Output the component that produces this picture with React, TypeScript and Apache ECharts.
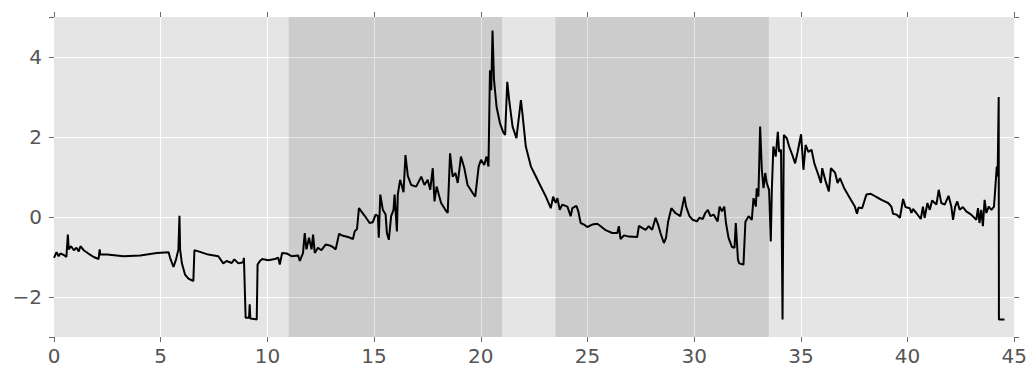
import React, { useEffect, useRef } from "react";
import * as echarts from "echarts";

const xValues = [
  0.0, 0.12, 0.22, 0.3, 0.46, 0.58, 0.65, 0.69, 0.8, 0.93, 1.05, 1.16, 1.24, 1.39, 1.63, 1.86, 2.09, 2.14, 2.17, 2.49,
  3.26, 4.04, 4.82, 5.37, 5.44, 5.6, 5.72, 5.83, 5.88, 5.91, 5.99, 6.14, 6.3, 6.53, 6.58, 6.77, 7.23, 7.7, 7.93, 8.09,
  8.33, 8.45, 8.64, 8.87, 8.9, 8.98, 9.14, 9.17, 9.2, 9.5, 9.54, 9.65, 9.76, 10.04, 10.35, 10.51, 10.58, 10.69, 10.9, 11.13,
  11.44, 11.52, 11.67, 11.75, 11.83, 11.95, 12.07, 12.14, 12.22, 12.37, 12.53, 12.73, 12.92, 13.07, 13.2, 13.36, 13.54, 13.78, 14.01, 14.09,
  14.2, 14.29, 14.4, 14.56, 14.79, 14.94, 15.07, 15.18, 15.22, 15.29, 15.41, 15.54, 15.6, 15.69, 15.8, 15.91, 15.96, 16.07, 16.11, 16.22,
  16.31, 16.38, 16.47, 16.58, 16.74, 16.97, 17.21, 17.36, 17.51, 17.63, 17.75, 17.83, 17.93, 18.14, 18.34, 18.45, 18.56, 18.68, 18.81, 18.92,
  19.07, 19.23, 19.38, 19.62, 19.74, 19.9, 20.01, 20.16, 20.27, 20.36, 20.43, 20.49, 20.55, 20.62, 20.74, 20.9, 21.05, 21.14, 21.24, 21.33,
  21.49, 21.67, 21.88, 21.95, 22.11, 22.35, 22.5, 22.73, 23.05, 23.28, 23.39, 23.51, 23.59, 23.7, 23.82, 24.06, 24.21, 24.29, 24.48, 24.57,
  24.68, 24.84, 24.99, 25.22, 25.46, 25.62, 25.85, 26.16, 26.4, 26.47, 26.55, 26.71, 26.94, 27.33, 27.41, 27.56, 27.72, 27.87, 28.03, 28.19,
  28.31, 28.42, 28.58, 28.68, 28.78, 28.93, 29.12, 29.35, 29.54, 29.62, 29.78, 29.93, 30.13, 30.24, 30.4, 30.52, 30.64, 30.76, 30.91, 31.1,
  31.19, 31.3, 31.41, 31.49, 31.61, 31.77, 31.89, 31.95, 32.05, 32.11, 32.31, 32.4, 32.55, 32.7, 32.78, 32.89, 32.93, 33.01, 33.09, 33.17,
  33.25, 33.33, 33.4, 33.51, 33.59, 33.64, 33.71, 33.82, 33.92, 33.98, 34.07, 34.14, 34.2, 34.34, 34.45, 34.6, 34.73, 34.85, 35.01, 35.12,
  35.22, 35.35, 35.5, 35.63, 35.82, 35.94, 36.0, 36.16, 36.31, 36.41, 36.6, 36.72, 36.83, 37.03, 37.3, 37.53, 37.63, 37.7, 37.87, 38.07,
  38.28, 38.54, 38.78, 39.09, 39.24, 39.32, 39.48, 39.64, 39.79, 39.9, 40.1, 40.18, 40.25, 40.41, 40.62, 40.72, 40.8, 40.93, 41.04, 41.15,
  41.35, 41.46, 41.58, 41.74, 41.92, 42.05, 42.13, 42.23, 42.33, 42.44, 42.59, 42.75, 42.98, 43.22, 43.3, 43.37, 43.45, 43.53, 43.61, 43.69,
  43.8, 43.93, 44.05, 44.18, 44.22, 44.27, 44.28, 44.54,
];

const yValues = [
  -1.02, -0.88, -0.98, -0.91, -0.95, -1.0, -0.44, -0.81, -0.73, -0.83, -0.77, -0.86, -0.73, -0.83, -0.92, -1.0, -1.05, -0.81, -0.94, -0.94,
  -0.98, -0.96, -0.9, -0.88, -1.02, -1.25, -1.06, -0.81, 0.03, -0.81, -1.15, -1.44, -1.54, -1.6, -0.83, -0.86, -0.94, -0.98, -1.16, -1.1,
  -1.15, -1.06, -1.16, -1.13, -1.02, -2.52, -2.52, -2.18, -2.54, -2.56, -1.19, -1.1, -1.05, -1.08, -1.05, -1.02, -1.19, -0.9, -0.91, -0.98,
  -0.96, -1.1, -0.9, -0.4, -0.81, -0.52, -0.81, -0.44, -0.9, -0.77, -0.83, -0.69, -0.71, -0.75, -0.81, -0.42, -0.47, -0.5, -0.55, -0.36,
  -0.3, 0.22, 0.14, 0.03, -0.15, -0.13, 0.06, 0.02, -0.52, 0.56, 0.18, 0.06, -0.4, -0.57, 0.02, 0.18, 0.56, -0.36, 0.56, 0.93,
  0.76, 0.62, 1.55, 1.03, 0.8, 0.76, 1.01, 0.8, 0.93, 0.68, 1.22, 0.39, 0.76, 0.35, 0.18, 0.1, 1.59, 1.01, 1.1, 0.85,
  1.51, 1.22, 0.8, 0.6, 0.51, 1.26, 1.43, 1.3, 1.51, 1.26, 3.67, 3.17, 4.66, 3.42, 2.75, 2.34, 2.12, 2.05, 3.38, 2.92,
  2.26, 1.97, 2.92, 2.59, 1.76, 1.26, 1.1, 0.85, 0.51, 0.22, 0.51, 0.35, 0.47, 0.18, 0.31, 0.26, 0.02, 0.22, 0.28, 0.14,
  -0.15, -0.19, -0.25, -0.19, -0.17, -0.23, -0.33, -0.4, -0.4, -0.23, -0.55, -0.46, -0.49, -0.5, -0.22, -0.27, -0.32, -0.23, -0.32, -0.02,
  -0.19, -0.4, -0.65, -0.52, -0.11, 0.22, 0.1, 0.02, 0.51, 0.26, 0.02, -0.07, -0.11, -0.02, -0.05, 0.1, 0.18, 0.02, 0.06, -0.11,
  0.26, 0.14, 0.26, -0.15, -0.52, -0.75, -0.77, -0.15, -1.06, -1.16, -1.19, -0.12, 0.02, -0.07, 0.47, 0.26, 0.72, 0.51, 2.26, 1.18,
  0.72, 1.1, 0.85, 0.68, -0.61, 0.68, 1.76, 1.51, 2.13, 1.63, 1.68, -2.56, 2.05, 1.97, 1.76, 1.55, 1.34, 1.63, 2.07, 1.18,
  1.8, 1.63, 1.68, 1.34, 1.05, 0.85, 1.22, 0.89, 0.64, 1.22, 1.11, 0.85, 0.97, 0.72, 0.47, 0.26, 0.08, 0.24, 0.22, 0.56,
  0.58, 0.5, 0.43, 0.35, 0.26, 0.08, 0.06, -0.02, 0.45, 0.25, 0.22, 0.1, 0.2, 0.1, -0.05, 0.26, -0.02, 0.35, 0.18, 0.41,
  0.31, 0.68, 0.35, 0.31, 0.53, 0.26, -0.07, 0.26, 0.39, 0.18, 0.25, 0.14, 0.06, -0.07, 0.22, -0.15, 0.18, -0.23, 0.43, 0.1,
  0.26, 0.18, 0.26, 1.26, 1.01, 3.0, -2.56, -2.56,
];

const shadeStarts = [11, 23.5];
const shadeEnds = [21, 33.5];

const xMin = 0;
const xMax = 45;
const xStep = 5;
const yMin = -3;
const yMax = 5;
const yTicks = [-2, 0, 2, 4];

export default function App() {
  const ref = useRef<HTMLDivElement>(null);

  useEffect(() => {
    if (!ref.current) return;
    const chart = echarts.init(ref.current, undefined, { renderer: "svg" });
    const font = "'DejaVu Sans', sans-serif";
    const tickColor = "#6a6a6a";
    const labelStyle = {
      color: "#555555",
      fontSize: 20,
      fontFamily: font,
    };
    const data = xValues.map((x, i) => [x, yValues[i]]);
    const areas = shadeStarts.map((s, i) => [{ xAxis: s }, { xAxis: shadeEnds[i] }]);
    const tick = { show: true, length: 5, lineStyle: { color: tickColor, width: 1 } };

    chart.setOption({
      animation: false,
      backgroundColor: "#ffffff",
      grid: {
        left: 54,
        right: 13,
        top: 17,
        bottom: 33,
        show: true,
        backgroundColor: "#e5e5e5",
        borderWidth: 0,
      },
      xAxis: [
        {
          type: "value",
          min: xMin,
          max: xMax,
          interval: xStep,
          position: "bottom",
          axisLine: { show: false, onZero: false },
          axisTick: tick,
          axisLabel: { ...labelStyle, margin: 9 },
          splitLine: { show: true, lineStyle: { color: "#ffffff", width: 1 }, showMinLine: false, showMaxLine: false },
        },
        {
          type: "value",
          min: xMin,
          max: xMax,
          interval: xStep,
          position: "top",
          axisLine: { show: false, onZero: false },
          axisTick: tick,
          axisLabel: { show: false },
          splitLine: { show: false },
        },
      ],
      yAxis: [
        {
          type: "value",
          min: yMin,
          max: yMax,
          splitNumber: 4,
          position: "left",
          axisLine: { show: false, onZero: false },
          axisTick: tick,
          axisLabel: {
            ...labelStyle,
            margin: 12,
            customValues: yTicks,
            formatter: (v: number) => (v < 0 ? "\u2212" + Math.abs(v) : String(v)),
          },
          splitLine: { show: true, lineStyle: { color: "#ffffff", width: 1 }, showMinLine: false, showMaxLine: false },
        },
        {
          type: "value",
          min: yMin,
          max: yMax,
          splitNumber: 4,
          position: "right",
          axisLine: { show: false, onZero: false },
          axisTick: tick,
          axisLabel: { show: false },
          splitLine: { show: false },
        },
      ],
      series: [
        {
          type: "line",
          name: "shade",
          data: [],
          z: 1,
          silent: true,
          markArea: {
            silent: true,
            itemStyle: { color: "rgba(0,0,0,0.105)" },
            data: areas,
          },
        },
        {
          type: "line",
          name: "value",
          data,
          z: 3,
          showSymbol: false,
          symbol: "none",
          lineStyle: { color: "#000000", width: 2 },
        },
      ],
    });
    return () => chart.dispose();
  }, []);

  return (
    <div
      ref={ref}
      style={{ position: "fixed", left: 0, top: 0, width: 1030, height: 370 }}
    />
  );
}
